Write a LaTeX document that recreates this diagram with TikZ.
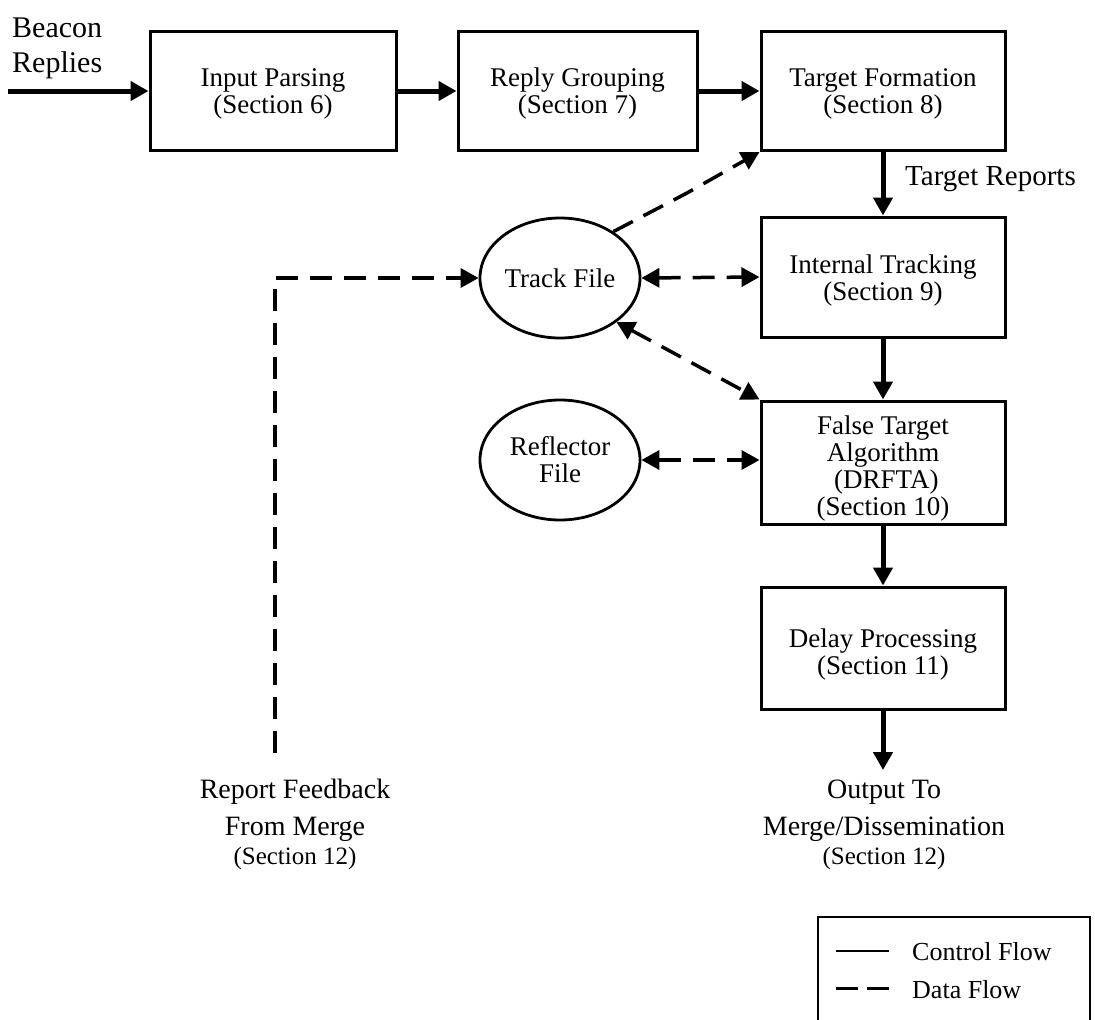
\documentclass[tikz,border=0pt]{standalone}
\usepackage{fontspec}
\setmainfont{Liberation Serif}
\usetikzlibrary{arrows.meta,shapes.geometric}

% text sizes
\newcommand\procfont{\fontsize{27}{27}\selectfont}
\newcommand\lblfont{\fontsize{28}{34}\selectfont}
\newcommand\secfont{\fontsize{25}{28}\selectfont}
\newcommand\keyfont{\fontsize{26}{30}\selectfont}
% invisible strut that lowers a box text a little
\newcommand\lowerby[1]{\rule{0pt}{#1}}

\begin{document}
\begin{tikzpicture}[x=1pt,y=-1pt,
  proc/.style={draw,line width=3pt,minimum width=244pt,minimum height=119pt,
    inner sep=0pt,align=center,font=\procfont},
  store/.style={draw,ellipse,line width=2.8pt,minimum width=160pt,
    minimum height=120pt,inner sep=0pt,align=center,font=\procfont},
  ctrl/.style={line width=5pt,-{Triangle[length=18pt,width=19pt]}},
  data/.style={line width=3.5pt,dash pattern=on 22pt off 12pt,
    -{Triangle[length=18pt,width=19pt]}},
  datab/.style={data,{Triangle[length=18pt,width=19pt]}-{Triangle[length=18pt,width=19pt]}},
  txt/.style={inner sep=0pt,anchor=base},
]
\useasboundingbox (0,0) rectangle (1095,1020);

% processing stages
\node[proc,minimum width=246pt] (ip) at (273,91) {\lowerby{24pt}Input Parsing\\(Section 6)};
\node[proc,minimum width=239pt] (rg) at (577.5,91) {\lowerby{24pt}Reply Grouping\\(Section 7)};
\node[proc] (tf) at (883,91) {\lowerby{24pt}Target Formation\\(Section 8)};
\node[proc,minimum height=120pt] (it) at (883,277) {\lowerby{25pt}Internal Tracking\\(Section 9)};
\node[proc,minimum height=123pt] (ft) at (883,462.5) {\lowerby{31pt}False Target\\Algorithm\\\ (DRFTA)\\(Section 10)};
\node[proc,minimum height=122pt] (dp) at (883,648) {\lowerby{32pt}Delay Processing\\(Section 11)};

% data stores
\node[store] (track) at (560,278) {Track File};
\node[store] (refl) at (560,460) {Reflector\\File};

% free ends and bend points
\coordinate (bin) at (8,91);
\coordinate (out) at (883,770);
\coordinate (fb) at (275,753);
\coordinate (bend) at (687,193);

% control flow
\draw[ctrl] (bin) -- (ip.west);
\draw[ctrl] (ip.east) -- (rg.west);
\draw[ctrl] (rg.east) -- (tf.west);
\draw[ctrl] (tf.south) -- (it.north);
\draw[ctrl] (it.south) -- (ft.north);
\draw[ctrl] (ft.south) -- (dp.north);
\draw[ctrl] (dp.south) -- (out);

% data flow
\draw[data] (track.41) -- (bend) -- (tf.south west);
\draw[datab] (track.east) -- (it.west);
\draw[datab] (track.-38) -- (ft.north west);
\draw[datab] (refl.east) -- (refl.east -| ft.west);
\draw[data] (fb) |- (track.west);

% labels
\node[inner sep=0pt,anchor=north west,align=left,font=\fontsize{30}{35}\selectfont] (beacon) at (12,18) {Beacon\\Replies};
\node[txt,anchor=base west,font=\fontsize{29}{34}\selectfont] (trep) at (905,185) {Target Reports};

\node[txt,font=\lblfont] (rf1) at (295,798) {Report Feedback};
\node[txt,font=\lblfont] (rf2) at (295,835) {From Merge};
\node[txt,font=\secfont] (rf3) at (295,864) {(Section 12)};

\node[txt,font=\lblfont] (ot1) at (884,798) {Output To};
\node[txt,font=\lblfont] (ot2) at (884,835) {Merge/Dissemination};
\node[txt,font=\secfont] (ot3) at (884,864) {(Section 12)};

% key
\draw[line width=2.5pt] (818,1030) -- (818,917) -- (1090,917) -- (1090,1030);
\coordinate (ks1) at (836,951);
\coordinate (ks2) at (889,951);
\coordinate (kd1) at (836,988);
\coordinate (kd2) at (889,988);
\draw[line width=2.8pt] (ks1) -- (ks2);
\draw[line width=3pt,dash pattern=on 22pt off 9pt] (kd1) -- (kd2);
\node[txt,anchor=base west,font=\keyfont] (kc) at (912,960) {Control Flow};
\node[txt,anchor=base west,font=\keyfont] (kdl) at (912,998) {Data Flow};
\end{tikzpicture}
\end{document}
